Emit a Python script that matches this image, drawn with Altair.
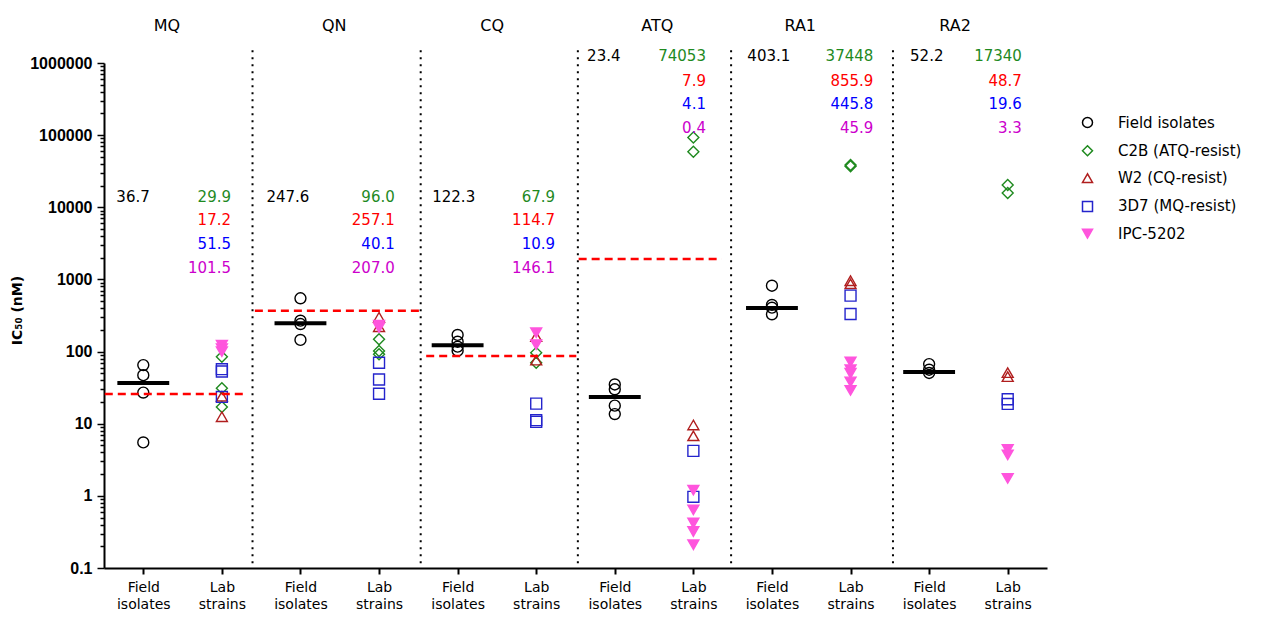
import altair as alt
import pandas as pd

# ---------------- data ----------------
panels = ["MQ", "QN", "CQ", "ATQ", "RA1", "RA2"]
groups = ["Field isolates", "C2B (ATQ-resist)", "W2 (CQ-resist)", "3D7 (MQ-resist)", "IPC-5202"]

field_values = [
    [65, 47, 27, 5.5],
    [548, 268, 241, 145],
    [170, 137, 117, 103],
    [35, 30, 17.8, 13.6],
    [818, 443, 406, 329],
    [67, 56, 50.5],
]
c2b_values = [[85, 31, 17], [148, 102, 92], [96, 70], [93000, 59000], [38500, 37000], [20400, 15800]]
w2_values = [[24, 12.5], [299, 221], [161, 76], [9.6, 6.8], [960, 870], [51, 45]]
d37_values = [[57, 53, 23.5], [70, 41, 26], [19, 11.2, 10.6], [4.2, 0.97], [596, 332], [21.8, 18.8]]
ipc_values = [[123, 100, 110], [232, 215], [183, 125], [1.2, 0.64, 0.42, 0.32, 0.21],
              [72, 56, 50, 38, 29], [4.4, 3.7, 1.75]]

field_medians = [36.7, 247.6, 122.3, 23.4, 403.1, 52.2]
field_labels = ["36.7", "247.6", "122.3", "23.4", "403.1", "52.2"]
c2b_labels = ["29.9", "96.0", "67.9", "74053", "37448", "17340"]
w2_labels = ["17.2", "257.1", "114.7", "7.9", "855.9", "48.7"]
d37_labels = ["51.5", "40.1", "10.9", "4.1", "445.8", "19.6"]
ipc_labels = ["101.5", "207.0", "146.1", "0.4", "45.9", "3.3"]

ref_values = [25.8, 369, 87, 1920]          # red dashed lines (MQ, QN, CQ, ATQ)

# ---------------- layout (data-space anchors) ----------------
low_rows = [13900, 6670, 3100, 1440]
high_rows = [1.25e6, 5.63e5, 2.70e5, 1.26e5]
row_sets = [low_rows, low_rows, low_rows, high_rows, high_rows, high_rows]
field_text_x = [-0.13, 1.84, 3.95, 5.86, 7.96, 9.97]
lab_text_right = [1.116, 3.20, 5.24, 7.16, 9.29, 11.18]
title_x = [0.30, 2.43, 4.44, 6.54, 8.36, 10.33]
title_y = 3.3e6
separators = [1.39, 3.53, 5.53, 7.48, 9.54]
ref_extent = [(-0.49, 1.29), (1.42, 3.52), (3.60, 5.51), (5.54, 7.36)]

group_stroke = ["#000000", "#1f8a1f", "#b01e1e", "#2424cc", "#ff55dd"]
group_fill = ["transparent", "transparent", "transparent", "transparent", "#ff55dd"]
group_shape = ["circle", "diamond", "triangle-up", "square", "triangle-down"]
text_colors = ["#000000", "#1f8a1f", "#ff0000", "#0000ff", "#cc00cc"]

FONT = "DejaVu Sans"
AXFONT = "Liberation Sans"

# ---------------- tables ----------------
pts = []
for p in range(len(panels)):
    for v in field_values[p]:
        pts.append({"x": 2 * p, "v": v, "group": groups[0]})
    for gi, lst in zip([1, 2, 3, 4], [c2b_values, w2_values, d37_values, ipc_values]):
        for v in lst[p]:
            pts.append({"x": 2 * p + 1, "v": v, "group": groups[gi]})
pts = pd.DataFrame(pts)

med = pd.DataFrame({"x": [2 * p - 0.33 for p in range(6)],
                    "x2": [2 * p + 0.33 for p in range(6)],
                    "v": field_medians})

ref = pd.DataFrame({"x": [a for a, b in ref_extent],
                    "x2": [b for a, b in ref_extent],
                    "v": ref_values})

sep = pd.DataFrame({"x": separators, "y": [1.5e6] * len(separators), "y2": [0.1] * len(separators)})

field_txt = pd.DataFrame({"x": field_text_x, "v": [r[0] for r in row_sets],
                          "t": field_labels, "c": [text_colors[0]] * 6})
lab_rows = []
for p in range(6):
    for k, lab in enumerate([c2b_labels, w2_labels, d37_labels, ipc_labels]):
        lab_rows.append({"x": lab_text_right[p], "v": row_sets[p][k], "t": lab[p], "c": text_colors[k + 1]})
lab_txt = pd.DataFrame(lab_rows)

titles = pd.DataFrame({"x": title_x, "v": [title_y] * 6, "t": panels})

# ---------------- scales / axes ----------------
xscale = alt.Scale(domain=[-0.5, 11.5], nice=False, zero=False)
yscale = alt.Scale(type="log", domain=[0.1, 1000000], nice=False)

yticks = []
for d in range(-1, 6):
    for m in range(1, 10):
        yticks.append(m * 10.0 ** d)
yticks.append(1000000.0)

is_dec = "abs(log(datum.value)/LN10 - round(log(datum.value)/LN10)) < 0.001"

xaxis = alt.Axis(values=list(range(12)), title=None, grid=False,
                 labelExpr="datum.value % 2 == 0 ? ['Field', 'isolates'] : ['Lab', 'strains']",
                 labelFont=FONT, labelFontSize=14, labelColor="#000000", labelLineHeight=17,
                 labelPadding=6, labelBaseline="top",
                 domainColor="#000000", domainWidth=2, tickColor="#000000", tickWidth=2, tickSize=6)

yaxis = alt.Axis(values=yticks, title="IC₅₀ (nM)", grid=False,
                 labelExpr=f"({is_dec}) ? (datum.value < 1 ? '0.1' : format(datum.value, 'd')) : ''",
                 labelOverlap=False, labelFlush=False,
                 labelFont=AXFONT, labelFontSize=16, labelFontWeight="bold", labelColor="#000000",
                 labelPadding=5,
                 titleFont=FONT, titleFontSize=14, titleFontWeight="bold", titleColor="#000000",
                 titleX=-80, titleY=247,
                 domainColor="#000000", domainWidth=2, tickColor="#000000",
                 tickWidth=1.5,
                 tickSize={"condition": {"test": is_dec, "value": 7}, "value": 4})

leg = alt.Legend(orient="none", legendX=976, legendY=52, title=None, padding=0,
                 labelFont=FONT, labelFontSize=15, labelColor="#000000",
                 symbolSize=100, symbolStrokeWidth=1.5, rowPadding=11.3, labelOffset=23)

# ---------------- layers ----------------
base_y = alt.Y("v:Q", scale=yscale, axis=yaxis)

sep_layer = alt.Chart(sep).mark_rule(color="#000000", strokeWidth=2, strokeDash=[2, 5]).encode(
    x=alt.X("x:Q", scale=xscale, axis=xaxis),
    y=alt.Y("y:Q", scale=yscale, axis=yaxis),
    y2="y2:Q",
)

pt_layer = alt.Chart(pts).mark_point(size=120, strokeWidth=1.4, opacity=1).encode(
    x=alt.X("x:Q", scale=xscale, axis=xaxis),
    y=base_y,
    shape=alt.Shape("group:N", scale=alt.Scale(domain=groups, range=group_shape), legend=leg),
    stroke=alt.Stroke("group:N", scale=alt.Scale(domain=groups, range=group_stroke), legend=leg),
    fill=alt.Fill("group:N", scale=alt.Scale(domain=groups, range=group_fill), legend=leg),
)

med_layer = alt.Chart(med).mark_rule(color="#000000", strokeWidth=4).encode(
    x=alt.X("x:Q", scale=xscale, axis=xaxis), x2="x2:Q", y=base_y)

ref_layer = alt.Chart(ref).mark_rule(color="#ff0000", strokeWidth=2.5, strokeDash=[8, 5]).encode(
    x=alt.X("x:Q", scale=xscale, axis=xaxis), x2="x2:Q", y=base_y)

ftxt_layer = alt.Chart(field_txt).mark_text(font=FONT, fontSize=15, align="center", baseline="middle").encode(
    x=alt.X("x:Q", scale=xscale, axis=xaxis), y=base_y, text="t:N",
    color=alt.Color("c:N", scale=None))

ltxt_layer = alt.Chart(lab_txt).mark_text(font=FONT, fontSize=15, align="right", baseline="middle").encode(
    x=alt.X("x:Q", scale=xscale, axis=xaxis), y=base_y, text="t:N",
    color=alt.Color("c:N", scale=None))

title_layer = alt.Chart(titles).mark_text(font=FONT, fontSize=16, align="center", baseline="middle",
                                          color="#000000").encode(
    x=alt.X("x:Q", scale=xscale, axis=xaxis), y=base_y, text="t:N")

chart = alt.layer(sep_layer, pt_layer, med_layer, ref_layer, ftxt_layer, ltxt_layer, title_layer).properties(
    width=943, height=505,
    autosize=alt.AutoSizeParams(type="none"),
    padding={"left": 96, "top": 55, "right": 210, "bottom": 45},
    background="#ffffff",
).configure_view(stroke=None).configure_axisY(
    labelFontSize=16, labelFont=AXFONT, labelFontWeight="bold"
)

chart.save("out.html", embed_options={"renderer": "svg", "actions": False})
